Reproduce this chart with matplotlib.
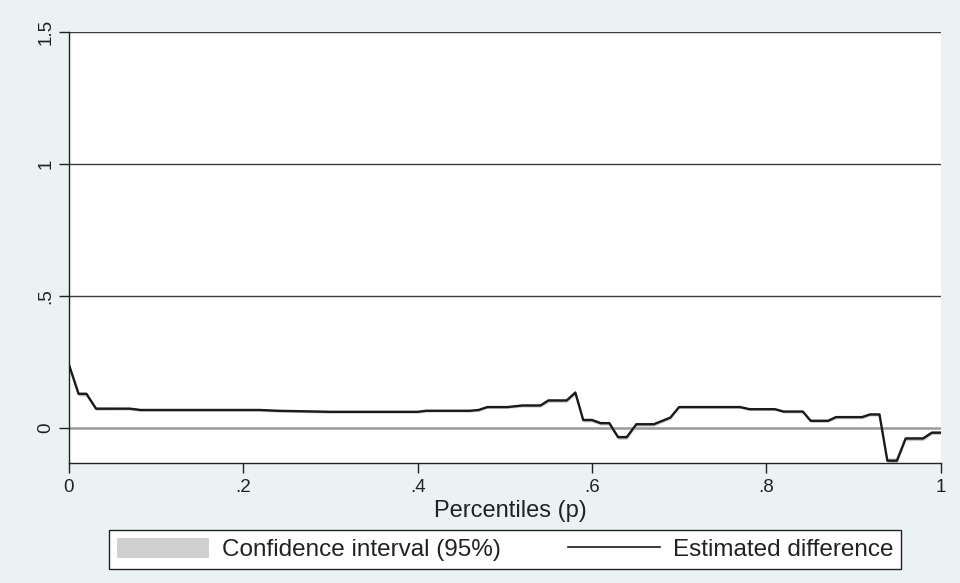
import matplotlib
matplotlib.use("Agg")
import matplotlib.pyplot as plt
from matplotlib.patches import Patch
from matplotlib.lines import Line2D

plt.rcParams["font.family"] = ["Liberation Sans", "DejaVu Sans"]

# percentiles and estimated difference
p = [0.000, 0.011, 0.020, 0.031, 0.070, 0.082, 0.219, 0.239, 0.300, 0.400,
     0.410, 0.460, 0.470, 0.480, 0.503, 0.520, 0.541, 0.550, 0.571, 0.581,
     0.590, 0.600, 0.610, 0.620, 0.630, 0.640, 0.651, 0.671, 0.690, 0.700,
     0.770, 0.781, 0.810, 0.820, 0.842, 0.851, 0.871, 0.880, 0.910, 0.919,
     0.930, 0.939, 0.950, 0.960, 0.980, 0.990, 1.000]
est = [0.240, 0.130, 0.130, 0.074, 0.074, 0.069, 0.069, 0.066, 0.062, 0.062,
       0.066, 0.066, 0.069, 0.080, 0.080, 0.086, 0.086, 0.105, 0.105, 0.135,
       0.031, 0.031, 0.019, 0.019, -0.034, -0.034, 0.015, 0.015, 0.040, 0.080,
       0.080, 0.072, 0.072, 0.063, 0.063, 0.028, 0.028, 0.042, 0.042, 0.052,
       0.052, -0.123, -0.123, -0.039, -0.039, -0.017, -0.017]
# half width of the 95% band (very narrow in the picture)
ci_half = [0.008, 0.008, 0.008, 0.006, 0.005, 0.005, 0.005, 0.005, 0.005, 0.005,
           0.005, 0.005, 0.005, 0.005, 0.005, 0.006, 0.006, 0.007, 0.007, 0.008,
           0.007, 0.007, 0.007, 0.007, 0.008, 0.008, 0.007, 0.007, 0.006, 0.005,
           0.005, 0.005, 0.005, 0.005, 0.005, 0.006, 0.006, 0.006, 0.006, 0.006,
           0.006, 0.010, 0.010, 0.008, 0.008, 0.007, 0.007]
ci_lo = [e - h for e, h in zip(est, ci_half)]
ci_hi = [e + h for e, h in zip(est, ci_half)]

xticks = [0, 0.2, 0.4, 0.6, 0.8, 1.0]
xticklabels = ["0", ".2", ".4", ".6", ".8", "1"]
yticks = [0, 0.5, 1.0, 1.5]
yticklabels = ["0", ".5", "1", "1.5"]

bg = "#EAF2F3"
W, H = 960, 583

fig = plt.figure(figsize=(W / 100, H / 100), dpi=100, facecolor=bg)
ax = fig.add_axes([69 / W, 1 - 463.3 / H, (940.5 - 69) / W, (463.3 - 32.3) / H])
ax.set_facecolor("white")

ax.fill_between(p, ci_lo, ci_hi, color="#c8c8c8", lw=0, zorder=2)
ax.plot(p, est, color="#1a1a1a", lw=1.7, zorder=3)

for y in [0.5, 1.0, 1.5]:
    ax.axhline(y, color="#3c3c3c", lw=1.0, zorder=1)
ax.axhline(0, color="#9a9a9a", lw=1.8, zorder=1)

ax.set_xlim(0, 1)
ax.set_ylim(-0.133, 1.5)
ax.set_xticks(xticks)
ax.set_xticklabels(xticklabels)
ax.set_yticks(yticks)
ax.set_yticklabels(yticklabels, rotation=90, va="center")
ax.tick_params(axis="both", direction="out", length=7, width=1.0,
               color="#222222", labelsize=13.5, labelcolor="#222222")
ax.tick_params(axis="x", pad=4.5)
ax.tick_params(axis="y", pad=3.5)

for side in ["top", "right"]:
    ax.spines[side].set_visible(False)
for side in ["left", "bottom"]:
    ax.spines[side].set_color("#222222")
    ax.spines[side].set_linewidth(1.0)

ax.set_xlabel("Percentiles (p)", fontsize=17, color="#222222")
ax.xaxis.set_label_coords(0.506, -0.11)
ax.xaxis.label.set_va("center")

handles = [Patch(facecolor="#d0d0d0", edgecolor="none"),
           Line2D([0], [0], color="#1a1a1a", lw=1.2)]
labels = ["Confidence interval (95%)", "Estimated difference"]
leg = fig.legend(handles, labels, loc="center", ncol=2,
                 bbox_to_anchor=(505 / W, 1 - 549.5 / H),
                 fontsize=17.5, frameon=True, fancybox=False, framealpha=1,
                 handlelength=3.8, handleheight=0.9, handletextpad=0.52,
                 columnspacing=2.75, borderpad=0.33, borderaxespad=0)
leg.get_frame().set_edgecolor("#222222")
leg.get_frame().set_facecolor("white")
leg.get_frame().set_linewidth(1.0)
for t in leg.get_texts():
    t.set_color("#222222")

fig.savefig("out.png", dpi=100, facecolor=bg)
